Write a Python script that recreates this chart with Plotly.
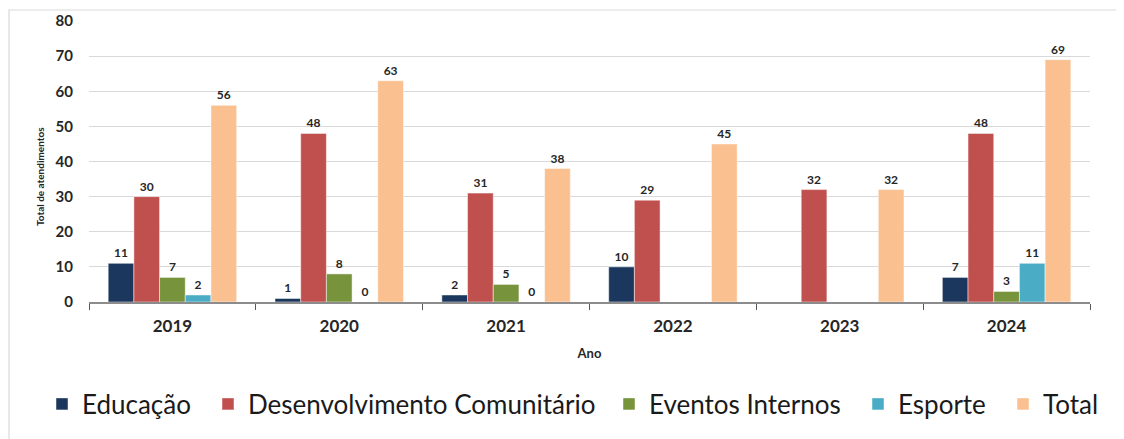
import plotly.graph_objects as go

anos = ["2019", "2020", "2021", "2022", "2023", "2024"]
educacao = [11, 1, 2, 10, None, 7]
desenvolvimento = [30, 48, 31, 29, 32, 48]
eventos = [7, 8, 5, None, None, 3]
esporte = [2, 0, 0, None, None, 11]
total = [56, 63, 38, 45, 32, 69]

series = [
    ("Educação", educacao, "#1B375E"),
    ("Desenvolvimento Comunitário", desenvolvimento, "#C0504D"),
    ("Eventos Internos", eventos, "#77933C"),
    ("Esporte", esporte, "#4BACC6"),
    ("Total", total, "#FAC090"),
]

FONT = "Lato"
PW, PH, L, B = 1001, 281, 81, 294
legend_ids = ["legend", "legend2", "legend3", "legend4", "legend5"]
legend_left_px = [34, 200, 601, 850, 995]

fig = go.Figure()
for (name, vals, col), lid in zip(series, legend_ids):
    fig.add_trace(go.Bar(
        x=anos, y=vals, name=name, legend=lid,
        marker=dict(color=col, line=dict(color="rgba(255,255,255,0.6)", width=0.8)),
        text=[None if v is None else str(v) for v in vals],
        texttemplate="%{text}",
        textposition="outside",
        textfont=dict(family=FONT, size=12, color="#262626", weight="bold"),
        constraintext="none",
        cliponaxis=False,
    ))

legends = {}
for lid, lx in zip(legend_ids, legend_left_px):
    legends[lid] = dict(orientation="h", x=(lx - L) / PW, xanchor="left",
                        y=-(396 - B) / PH, yanchor="middle",
                        font=dict(family=FONT, size=26, color="#1a1a1a"),
                        itemwidth=30, bgcolor="rgba(0,0,0,0)")

fig.update_layout(
    width=1116, height=431,
    margin=dict(l=L, r=34, t=13, b=137),
    paper_bgcolor="white", plot_bgcolor="white",
    barmode="group", bargap=0.23, bargroupgap=0,
    font=dict(family=FONT, color="#262626"),
    showlegend=True,
    **legends,
    xaxis=dict(
        automargin=False,
        showgrid=False, showline=True, linecolor="#8c8c8c", linewidth=1.5,
        ticks="outside", tickson="boundaries", ticklen=6, tickcolor="#595959",
        ticklabelstandoff=8,
        tickfont=dict(family=FONT, size=17, color="#262626", weight="bold"),
        title=dict(text="Ano", font=dict(family=FONT, size=13, color="#262626", weight="bold"), standoff=14),
    ),
    yaxis=dict(
        automargin=False,
        range=[0, 80], dtick=10, showgrid=True, gridcolor="#d9d9d9", gridwidth=1,
        zeroline=False, showline=False,
        ticks="outside", ticklen=12, tickcolor="rgba(0,0,0,0)",
        tickfont=dict(family=FONT, size=15, color="#262626", weight="bold"),
    ),
)

fig.add_annotation(text="Total de atendimentos", xref="paper", yref="paper",
                   x=(32 - L) / PW, y=(B - 169) / PH, textangle=-90, showarrow=False,
                   xanchor="center", yanchor="middle",
                   font=dict(family=FONT, size=10, color="#262626", weight="bold"))

fig.add_shape(type="rect", xref="paper", yref="paper",
              x0=(1 - L) / PW, x1=1.2, y0=-1, y1=(B - 2) / PH,
              line=dict(color="#d9d9d9", width=1.2), fillcolor="rgba(0,0,0,0)", layer="below")

fig.write_html("out.html")
